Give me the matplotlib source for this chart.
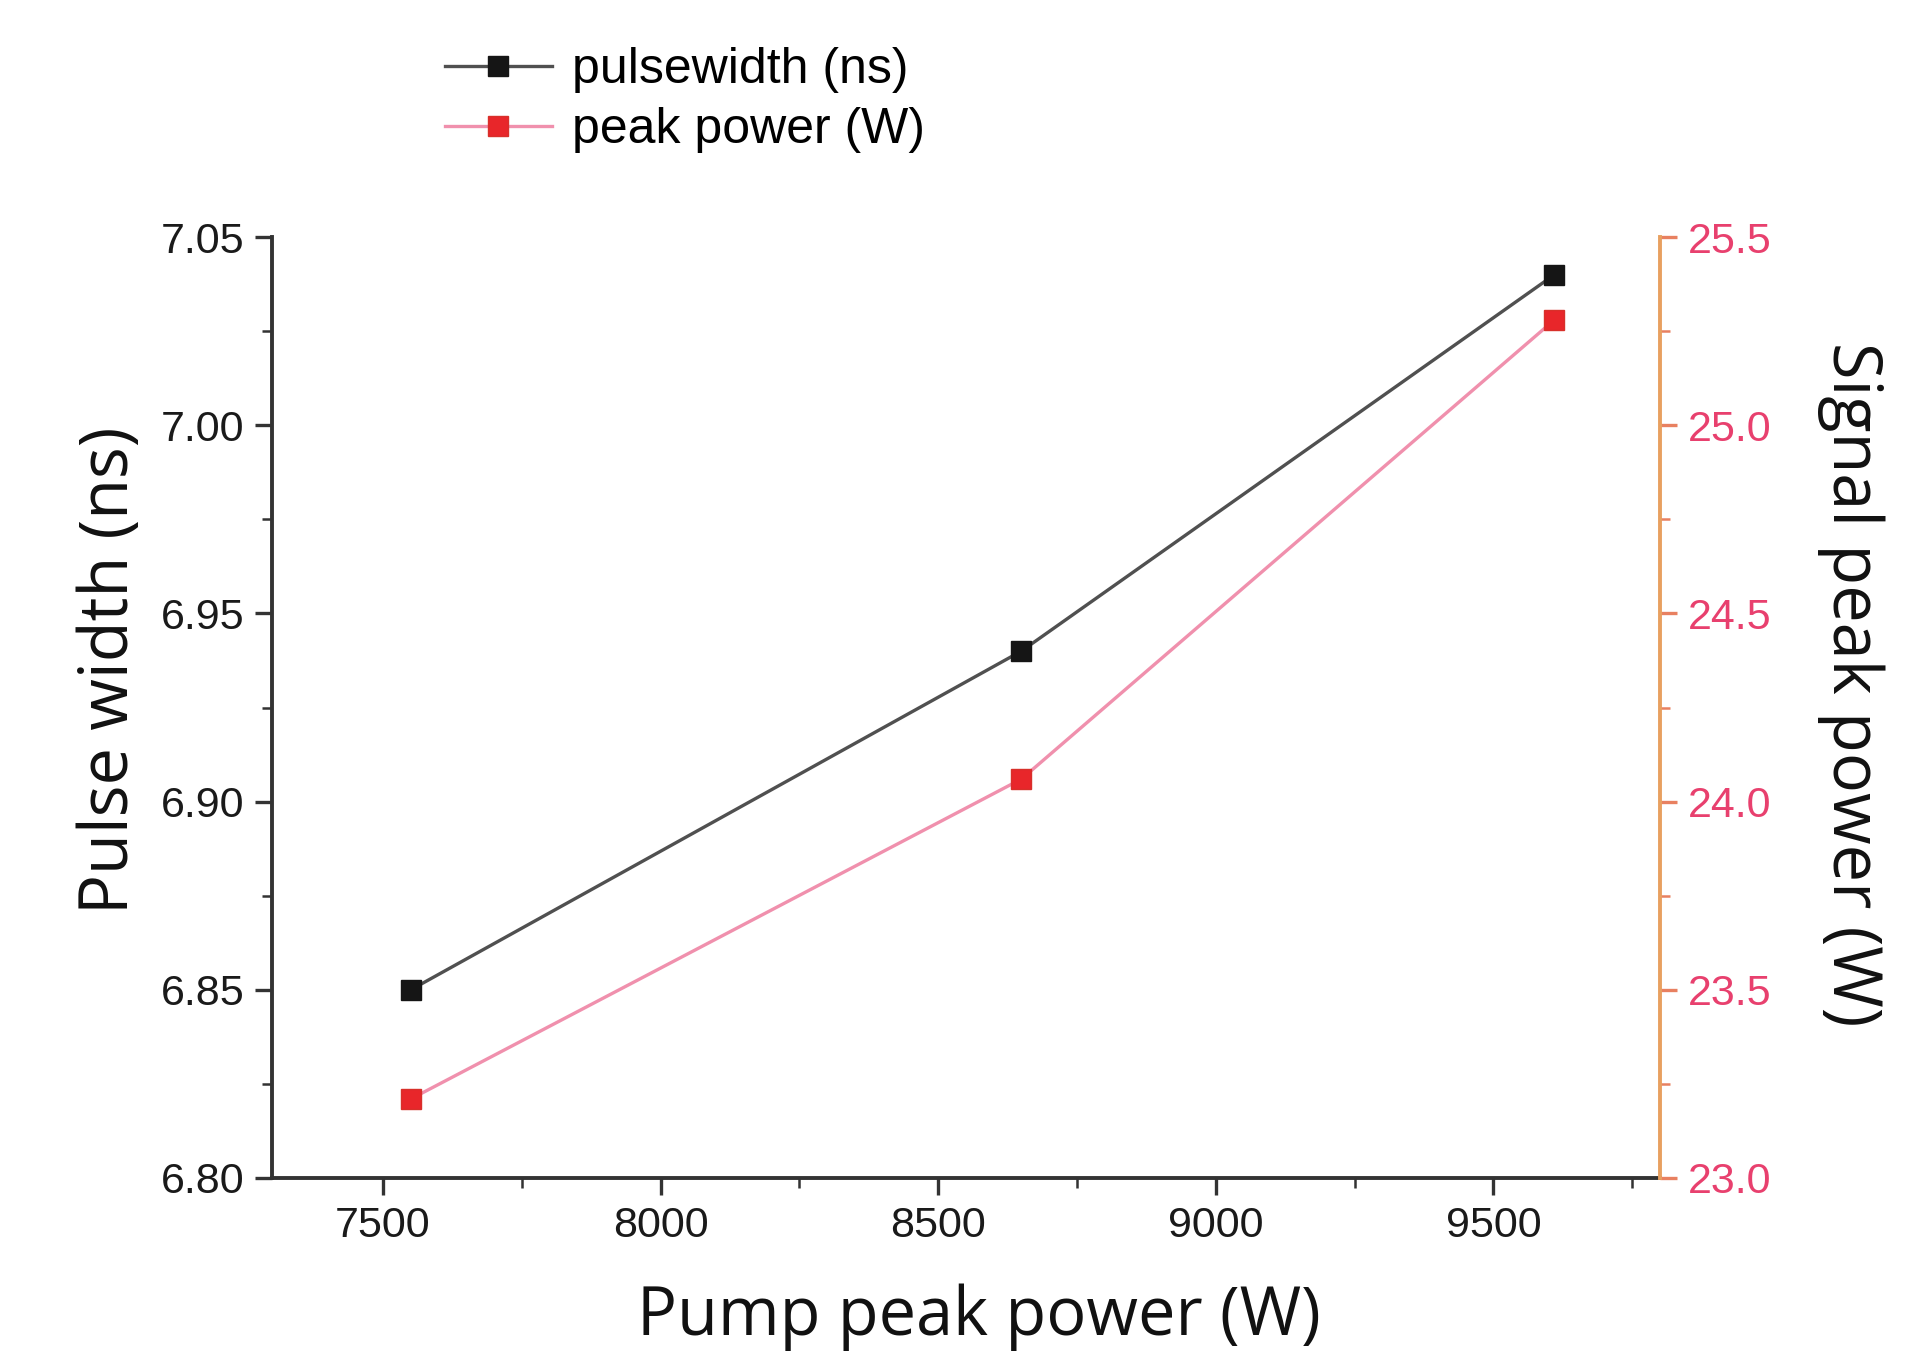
import numpy as np
import matplotlib
matplotlib.use("Agg")
import matplotlib.pyplot as plt
from matplotlib.ticker import MultipleLocator

# datos
pump_power = [7550, 8650, 9610]
pulse_width = [6.85, 6.94, 7.04]
peak_power = [23.21, 24.06, 25.28]

plt.rcParams['font.family'] = ['Liberation Sans', 'DejaVu Sans']

fig = plt.figure(figsize=(19.25, 13.52), dpi=100)
ax = fig.add_axes([0.1413, 0.1287, 0.7210, 0.6960])
ax2 = ax.twinx()

l1, = ax.plot(pump_power, pulse_width, color='#505050', lw=2.4,
              marker='s', ms=14, mfc='#151515', mec='#151515', label='pulsewidth (ns)')
l2, = ax2.plot(pump_power, peak_power, color='#f090ad', lw=2.4,
               marker='s', ms=14, mfc='#e8262a', mec='#d8302a', label='peak power (W)')

ax.set_xlim(7300, 9800)
ax.set_ylim(6.80, 7.05)
ax2.set_ylim(23.0, 25.5)

ax.xaxis.set_major_locator(MultipleLocator(500))
ax.xaxis.set_minor_locator(MultipleLocator(250))
ax.yaxis.set_major_locator(MultipleLocator(0.05))
ax.yaxis.set_minor_locator(MultipleLocator(0.025))
ax2.yaxis.set_major_locator(MultipleLocator(0.5))
ax2.yaxis.set_minor_locator(MultipleLocator(0.25))
ax.yaxis.set_major_formatter(matplotlib.ticker.FormatStrFormatter('%.2f'))
ax2.yaxis.set_major_formatter(matplotlib.ticker.FormatStrFormatter('%.1f'))

# ejes
for s in ['left', 'bottom']:
    ax.spines[s].set_linewidth(2.8)
    ax.spines[s].set_color('#333333')
ax.spines['top'].set_visible(False)
ax.spines['right'].set_visible(False)
ax2.spines['top'].set_visible(False)
ax2.spines['left'].set_visible(False)
ax2.spines['bottom'].set_visible(False)
ax2.spines['right'].set_linewidth(2.8)
ax2.spines['right'].set_color('#e8a060')

ax.tick_params(which='major', direction='out', length=12, width=2.4, labelsize=31,
               colors='#333333', pad=8)
ax.tick_params(which='minor', direction='out', length=7, width=1.8, colors='#333333')
ax.tick_params(axis='both', labelcolor='#1a1a1a')
ax2.tick_params(which='major', direction='out', length=12, width=2.4, labelsize=31,
                color='#e88060', labelcolor='#e8406e', pad=8)
ax2.tick_params(which='minor', direction='out', length=7, width=1.8, color='#e88060')

lab_font = {'family': ['Open Sans', 'DejaVu Sans'], 'size': 48, 'color': '#111111'}
ax.set_xlabel('Pump peak power (W)', fontdict=lab_font)
ax.set_ylabel('Pulse width (ns)', fontdict=lab_font)
ax2.set_ylabel('Signal peak power (W)', fontdict=lab_font, rotation=270)
ax.xaxis.set_label_coords(0.509, -0.112)
ax.yaxis.set_label_coords(-0.092, 0.54)
ax2.yaxis.set_label_coords(1.162, 0.525)

fig.legend(handles=[l1, l2], loc='upper left', bbox_to_anchor=(0.231, 0.965),
           frameon=False, fontsize=36, handlelength=2.15, handletextpad=0.4,
           labelspacing=0.28, borderpad=0, borderaxespad=0)

fig.savefig('out.png', dpi=100)
